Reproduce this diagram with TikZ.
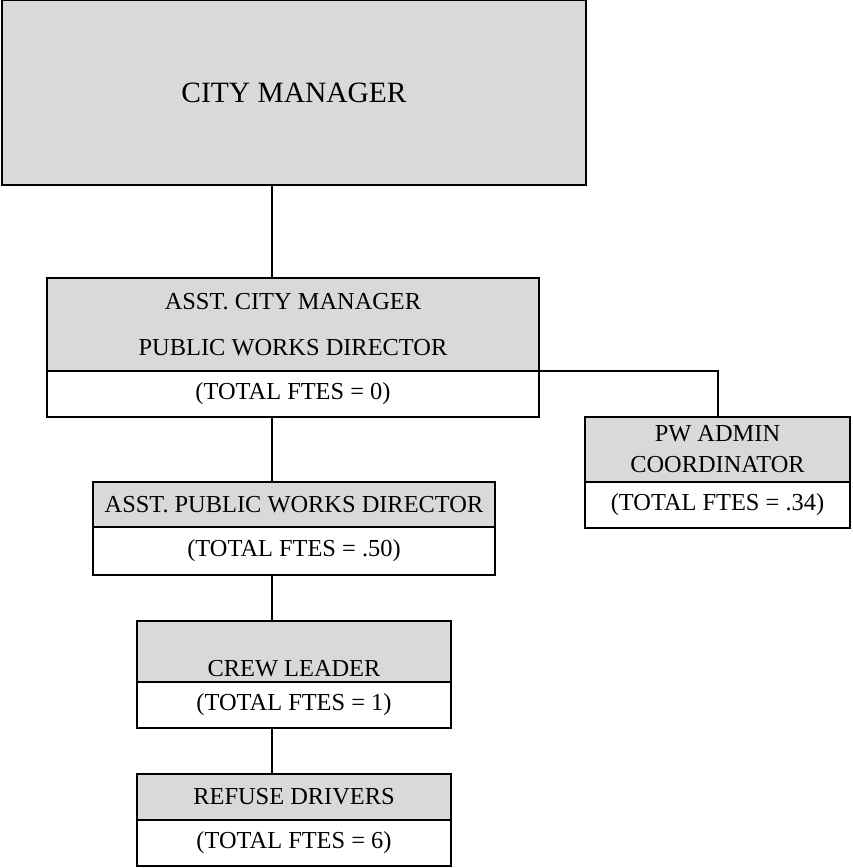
\documentclass[tikz,border=0pt]{standalone}
\usepackage{fontspec}
\setmainfont{Liberation Serif}
\usetikzlibrary{positioning}
\definecolor{headgray}{RGB}{217,217,217}
\tikzset{
  head/.style={draw, fill=headgray, inner sep=0pt, outer sep=0pt, align=center, font=\fontsize{12.2}{15.5}\selectfont},
  fte/.style={draw, fill=white, inner sep=0pt, outer sep=0pt, align=center, minimum height=23pt, font=\fontsize{12.2}{15.5}\selectfont},
  link/.style={line width=1pt}
}
\begin{document}
\begin{tikzpicture}[x=0.5pt, y=-0.5pt, line width=1pt]
\useasboundingbox (0,0) rectangle (852,868);
\coordinate (spine) at (272,0);% common x of the vertical links
% boxes
\node[head, minimum width=292pt, minimum height=92.5pt, font=\fontsize{14.75}{17}\selectfont] (cm) at (294,92.5) {CITY MANAGER};
\node[head, minimum width=246pt, minimum height=46.5pt, font=\fontsize{12.2}{23}\selectfont] (acm) at (293,324.5) {ASST. CITY MANAGER\\PUBLIC WORKS DIRECTOR};
\node[fte, minimum width=246pt, below=0pt of acm] (acmfte) {(TOTAL FTES = 0)};
\node[head, minimum width=132.5pt, minimum height=32.5pt] (pwa) at (717.5,449.5) {PW ADMIN\\COORDINATOR};
\node[fte, minimum width=132.5pt, below=0pt of pwa] (pwafte) {(TOTAL FTES = .34)};
\node[head, minimum width=201pt, minimum height=22.5pt] (apwd) at (294,504.5) {ASST. PUBLIC WORKS DIRECTOR};
\node[fte, minimum width=201pt, minimum height=24pt, below=0pt of apwd] (apwdfte) {(TOTAL FTES = .50)};
\node[head, minimum width=157pt, text height=27.75pt, text depth=2.75pt, anchor=north] (crew) at (294,621) {CREW LEADER};
\node[fte, minimum width=157pt, below=0pt of crew] (crewfte) {(TOTAL FTES = 1)};
\node[head, minimum width=157pt, minimum height=23pt] (refuse) at (294,797) {REFUSE DRIVERS};
\node[fte, minimum width=157pt, minimum height=23pt, below=0pt of refuse] (refusefte) {(TOTAL FTES = 6)};
% links
\draw[link] (cm.south -| spine) -- (acm.north -| spine);
\draw[link] (acmfte.south -| spine) -- (apwd.north -| spine);
\draw[link] (apwdfte.south -| spine) -- (crew.north -| spine);
\draw[link] (crewfte.south -| spine) -- (refuse.north -| spine);
\draw[link] (acmfte.north east) -| (pwa.north);
\end{tikzpicture}
\end{document}
